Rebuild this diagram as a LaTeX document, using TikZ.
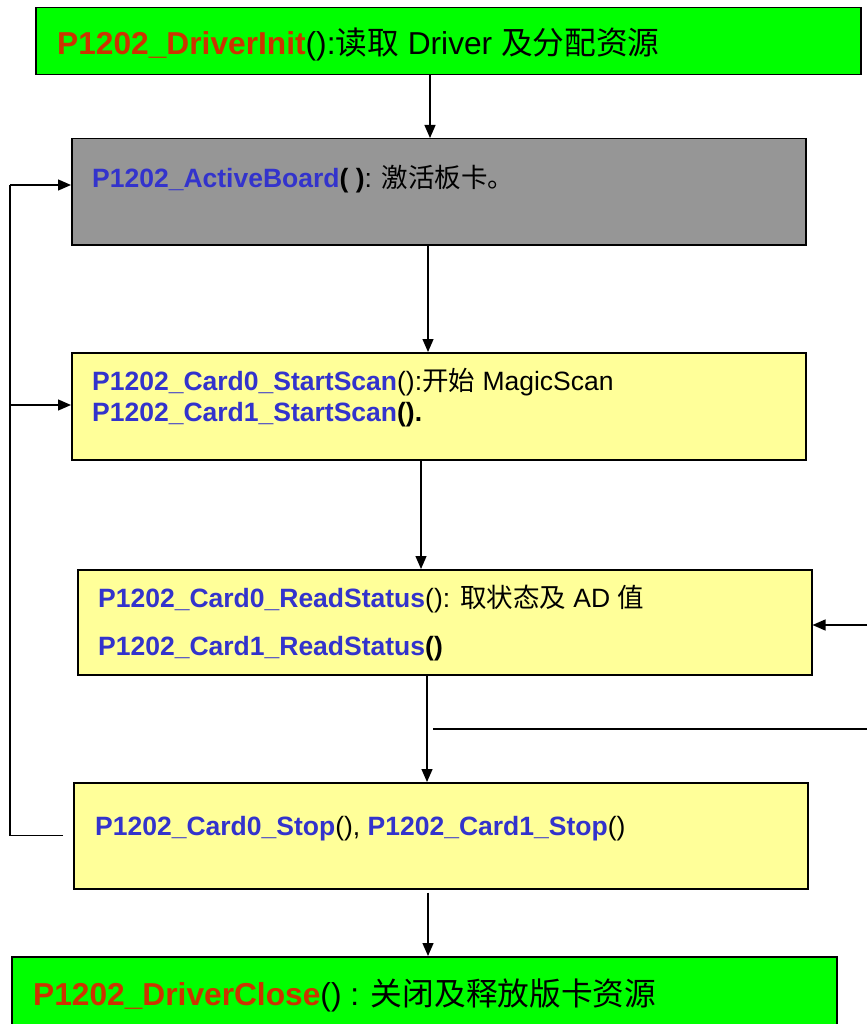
\documentclass[tikz,border=0pt]{standalone}
\usepackage{fontspec}
\setmainfont{Liberation Sans}
\newfontfamily\cjk{Noto Sans CJK SC}
\usetikzlibrary{arrows.meta}
\definecolor{boxgreen}{RGB}{0,255,0}
\definecolor{boxgray}{RGB}{150,150,150}
\definecolor{boxyellow}{RGB}{255,255,153}
\definecolor{fnred}{RGB}{204,51,0}
\definecolor{fnblue}{RGB}{51,51,204}
\newcommand{\fred}[1]{\textbf{\color{fnred}#1}}
\newcommand{\fblue}[1]{\textbf{\color{fnblue}#1}}
\begin{document}
\begin{tikzpicture}[x=1pt,y=-1pt,
  procbox/.style={draw=black, line width=1.5pt, inner sep=0pt, anchor=north west},
  label/.style={anchor=base west, inner sep=0pt, text=black},
  big/.style={font=\fontsize{31.7}{38}\selectfont},
  small/.style={font=\fontsize{26.5}{32}\selectfont},
  arr/.style={line width=1.3pt, -{Triangle[length=13pt,width=11pt]}},
  wire/.style={line width=1.3pt}]
\useasboundingbox (0,0) rectangle (867,1024);
\clip (0,0) rectangle (867,1024);

% process boxes
\node[procbox, fill=boxgreen, minimum width=825pt, minimum height=67pt] (b1) at (35,7) {};
\node[procbox, fill=boxgray, minimum width=734pt, minimum height=106pt] (b2) at (71,138) {};
\node[procbox, fill=boxyellow, minimum width=734pt, minimum height=107pt] (b3) at (71,352) {};
\node[procbox, fill=boxyellow, minimum width=734pt, minimum height=105pt] (b4) at (77,569) {};
\node[procbox, fill=boxyellow, minimum width=734pt, minimum height=106pt] (b5) at (73,782) {};
\node[procbox, fill=boxgreen, minimum width=825pt, minimum height=85pt] (b6) at (11,956) {};

% labels
\node[label, big] (t1) at (57,55) {\fred{P1202\_DriverInit}():{\cjk 读取} Driver {\cjk 及分配资源}};
\node[label, small] (t2) at (92,188) {\fblue{P1202\_ActiveBoard}\textbf{( )}: {\cjk 激活板卡。}};
\node[label, small] (t3a) at (92,390) {\fblue{P1202\_Card0\_StartScan}():{\cjk 开始} MagicScan};
\node[label, small] (t3b) at (92,421) {\fblue{P1202\_Card1\_StartScan}\textbf{().}};
\node[label, small] (t4a) at (98,607) {\fblue{P1202\_Card0\_ReadStatus}(): {\cjk 取状态及} AD {\cjk 值}};
\node[label, small] (t4b) at (98,655) {\fblue{P1202\_Card1\_ReadStatus}\textbf{()}};
\node[label, small] (t5) at (95,835) {\fblue{P1202\_Card0\_Stop}(), \fblue{P1202\_Card1\_Stop}()};
\node[label, big] (t6) at (33,1005) {\fred{P1202\_DriverClose}() : {\cjk 关闭及释放版卡资源}};

% main flow
\draw[arr] (430,0 |- b1.south) -- (430,0 |- b2.north);
\draw[arr] (428,0 |- b2.south) -- (428,0 |- b3.north);
\draw[arr] (421,0 |- b3.south) -- (421,0 |- b4.north);
\draw[arr] (427,0 |- b4.south) -- (427,0 |- b5.north);
\draw[arr] ([yshift=-3pt]428,0 |- b5.south) -- (428,0 |- b6.north);

% loop back on the left
\coordinate (lx) at (10,0);
\draw[wire] ([xshift=-10pt]b5.west) -- (lx |- b5.west) -- (lx |- 0,185);
\draw[arr] (lx |- 0,185) -- (b2.west |- 0,185);
\draw[arr] (lx |- 0,405) -- (b3.west |- 0,405);

% links on the right
\coordinate (rin) at (867,625);
\coordinate (rout) at (867,729);
\draw[arr] (rin) -- (b4.east |- rin);
\draw[wire] (433,0 |- rout) -- (rout);
\end{tikzpicture}
\end{document}
